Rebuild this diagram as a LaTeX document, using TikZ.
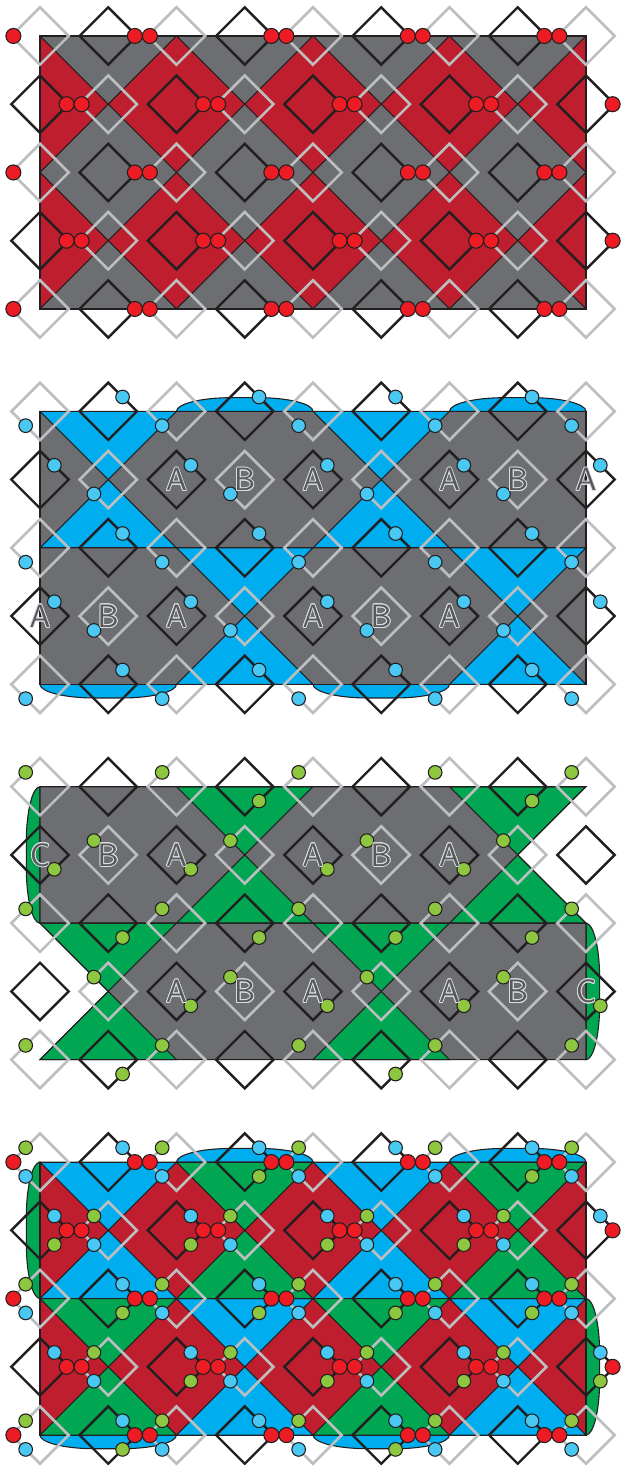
\documentclass[tikz,border=0pt]{standalone}
\usetikzlibrary{calc}
\definecolor{rfill}{HTML}{BE1E2D}
\definecolor{gfill}{HTML}{6D6E71}
\definecolor{bfill}{HTML}{00AEEF}
\definecolor{nfill}{HTML}{00A651}
\definecolor{rdot}{HTML}{ED1C24}
\definecolor{bdot}{HTML}{48C8F2}
\definecolor{ndot}{HTML}{8DC63F}
\definecolor{dk}{HTML}{231F20}
\definecolor{lg}{HTML}{BCBEC0}
\newcommand\lblfont{\sffamily\fontsize{13.5}{16}\selectfont}
\tikzset{
 thinln/.style={draw=dk, line width=0.45pt, line join=miter},
 bdia/.style={draw=dk, line width=1pt, line join=miter},
 gdia/.style={draw=lg, line width=1.1pt, line join=miter},
 rdt/.style={fill=rdot, draw=dk, line width=0.45pt},
 bdt/.style={fill=bdot, draw=dk, line width=0.45pt},
 ndt/.style={fill=ndot, draw=dk, line width=0.45pt},
 lblw/.style={text=lg!50!white, font=\lblfont, inner sep=0pt},
 lblf/.style={text=gfill!80!black, font=\lblfont, inner sep=0pt},
}
\newcommand\diam[3]{\path[#3] (#1,#2) ++(0.42,0) -- ++(-0.42,-0.42) -- ++(-0.42,0.42) -- ++(0.42,0.42) -- cycle;}
\newcommand\alldiam{%
 \foreach \j in {0,2,4} \foreach \i in {1,3,5,7} {\diam{\i}{\j}{bdia}}
 \foreach \j in {1,3} \foreach \i in {0,2,4,6,8} {\diam{\i}{\j}{bdia}}
 \foreach \j in {0,2,4} \foreach \i in {0,2,4,6,8} {\diam{\i}{\j}{gdia}}
 \foreach \j in {1,3} \foreach \i in {1,3,5,7} {\diam{\i}{\j}{gdia}}
}
\newcommand\reddots{%
 \foreach \j in {0,2,4} \foreach \i in {1,3,5,7} {\path[rdt] (\i+0.39,\j) circle (0.11);}
 \foreach \j in {1,3} \foreach \i in {0,2,4,6,8} {\path[rdt] (\i+0.39,\j) circle (0.11);}
 \foreach \j in {0,2,4} \foreach \i in {0,2,4,6,8} {\path[rdt] (\i-0.39,\j) circle (0.11);}
 \foreach \j in {1,3} \foreach \i in {1,3,5,7} {\path[rdt] (\i-0.39,\j) circle (0.11);}
}
\newcommand\bluedots{%
 \foreach \j in {0,2,4} \foreach \i in {1,3,5,7} {\path[bdt] (\i+0.21,\j-0.21) circle (0.1);}
 \foreach \j in {1,3} \foreach \i in {0,2,4,6,8} {\path[bdt] (\i+0.21,\j-0.21) circle (0.1);}
 \foreach \j in {0,2,4} \foreach \i in {0,2,4,6,8} {\path[bdt] (\i-0.21,\j+0.21) circle (0.1);}
 \foreach \j in {1,3} \foreach \i in {1,3,5,7} {\path[bdt] (\i-0.21,\j+0.21) circle (0.1);}
}
\newcommand\greendots{%
 \foreach \i/\j in {3/0,7/0,1/2,3/2,5/2,7/2,1/4,5/4,0/1,2/1,4/1,6/1,2/3,4/3,6/3,8/3} {\path[ndt] (\i+0.21,\j+0.21) circle (0.1);}
 \foreach \j in {0,2,4} \foreach \i in {0,2,4,6,8} {\path[ndt] (\i-0.21,\j-0.21) circle (0.1);}
 \foreach \j in {1,3} \foreach \i in {1,3,5,7} {\path[ndt] (\i-0.21,\j-0.21) circle (0.1);}
}
\newcommand\topb[2]{\path[#2] (#1,0) .. controls (#1,-0.11) and (#1+0.36,-0.2) .. (#1+0.8,-0.2) -- (#1+1.2,-0.2) .. controls (#1+1.64,-0.2) and (#1+2,-0.11) .. (#1+2,0) -- cycle;}
\newcommand\botb[2]{\path[#2] (#1,4) .. controls (#1,4.11) and (#1+0.36,4.2) .. (#1+0.8,4.2) -- (#1+1.2,4.2) .. controls (#1+1.64,4.2) and (#1+2,4.11) .. (#1+2,4) -- cycle;}
\newcommand\leftb[1]{\path[#1] (0,0) .. controls (-0.11,0) and (-0.2,0.36) .. (-0.2,0.8) -- (-0.2,1.2) .. controls (-0.2,1.64) and (-0.11,2) .. (0,2) -- cycle;}
\newcommand\rightb[1]{\path[#1] (8,2) .. controls (8.11,2) and (8.2,2.36) .. (8.2,2.8) -- (8.2,3.2) .. controls (8.2,3.64) and (8.11,4) .. (8,4) -- cycle;}
\newcommand\hg[3]{%
 \path[#3] (#1-1,#2-1) -- (#1+1,#2-1) -- (#1,#2) -- cycle;
 \path[#3] (#1-1,#2+1) -- (#1+1,#2+1) -- (#1,#2) -- cycle;}
\newcommand\lbl[4]{%
 \foreach \a in {0,30,...,330} {\node[lblw, shift={(\a:0.35pt)}] at (#2,#3) {#4};}
 \node[lblf] (#1) at (#2,#3) {#4};}
\begin{document}
\begin{tikzpicture}[x=1cm,y=-1cm]
\useasboundingbox (-0.586,-0.527) rectangle (8.513,20.968);
% ---------- panel 1
\begin{scope}
 \fill[gfill] (0,0) rectangle (8,4);
 \begin{scope}
  \clip (0,0) rectangle (8,4);
  \foreach \i in {0,2,4,6,8} \foreach \j in {1,3} {\path[fill=rfill, thinln] (\i,\j-1) -- (\i+1,\j) -- (\i,\j+1) -- (\i-1,\j) -- cycle;}
 \end{scope}
 \draw[thinln] (0,0) rectangle (8,4);
 \alldiam
 \reddots
\end{scope}
% ---------- panel 2
\begin{scope}[shift={(0,5.5)}]
 \topb{2}{fill=bfill, thinln} \topb{6}{fill=bfill, thinln}
 \botb{0}{fill=bfill, thinln} \botb{4}{fill=bfill, thinln}
 \fill[gfill] (0,0) rectangle (8,4);
 \foreach \c/\r in {1/1,5/1,3/3,7/3} {\hg{\c}{\r}{fill=bfill, thinln}}
 \draw[thinln] (0,0) rectangle (8,4);
 \draw[thinln] (0,2) -- (8,2);
 \alldiam
 \bluedots
 \lbl{b1}{2}{1}{A} \lbl{b2}{3}{1}{B} \lbl{b3}{4}{1}{A} \lbl{b4}{6}{1}{A} \lbl{b5}{7}{1}{B} \lbl{b6}{8}{1}{A}
 \lbl{b7}{0}{3}{A} \lbl{b8}{1}{3}{B} \lbl{b9}{2}{3}{A} \lbl{b10}{4}{3}{A} \lbl{b11}{5}{3}{B} \lbl{b12}{6}{3}{A}
\end{scope}
% ---------- panel 3
\begin{scope}[shift={(0,11)}]
 \leftb{fill=nfill, thinln}
 \rightb{fill=nfill, thinln}
 \fill[gfill] (0,0) -- (8,0) -- (7,1) -- (8,2) -- (0,2) -- cycle;
 \fill[gfill] (0,2) -- (8,2) -- (8,4) -- (0,4) -- (1,3) -- cycle;
 \foreach \c/\r in {3/1,7/1,1/3,5/3} {\hg{\c}{\r}{fill=nfill, thinln}}
 \draw[thinln] (0,0) -- (8,0) -- (7,1) -- (8,2) -- (0,2) -- cycle;
 \draw[thinln] (0,2) -- (8,2) -- (8,4) -- (0,4) -- (1,3) -- cycle;
 \alldiam
 \greendots
 \lbl{c1}{0}{1}{C} \lbl{c2}{1}{1}{B} \lbl{c3}{2}{1}{A} \lbl{c4}{4}{1}{A} \lbl{c5}{5}{1}{B} \lbl{c6}{6}{1}{A}
 \lbl{c7}{2}{3}{A} \lbl{c8}{3}{3}{B} \lbl{c9}{4}{3}{A} \lbl{c10}{6}{3}{A} \lbl{c11}{7}{3}{B} \lbl{c12}{8}{3}{C}
\end{scope}
% ---------- panel 4
\begin{scope}[shift={(0,16.5)}]
 \topb{2}{fill=bfill, thinln} \topb{6}{fill=bfill, thinln}
 \botb{0}{fill=bfill, thinln} \botb{4}{fill=bfill, thinln}
 \leftb{fill=nfill, thinln}
 \rightb{fill=nfill, thinln}
 \fill[rfill] (0,0) rectangle (8,4);
 \foreach \c/\r in {1/1,5/1,3/3,7/3} {\hg{\c}{\r}{fill=bfill, thinln}}
 \foreach \c/\r in {3/1,7/1,1/3,5/3} {\hg{\c}{\r}{fill=nfill, thinln}}
 \draw[thinln] (0,0) rectangle (8,4);
 \draw[thinln] (0,2) -- (8,2);
 \alldiam
 \bluedots
 \greendots
 \reddots
\end{scope}
\end{tikzpicture}
\end{document}
